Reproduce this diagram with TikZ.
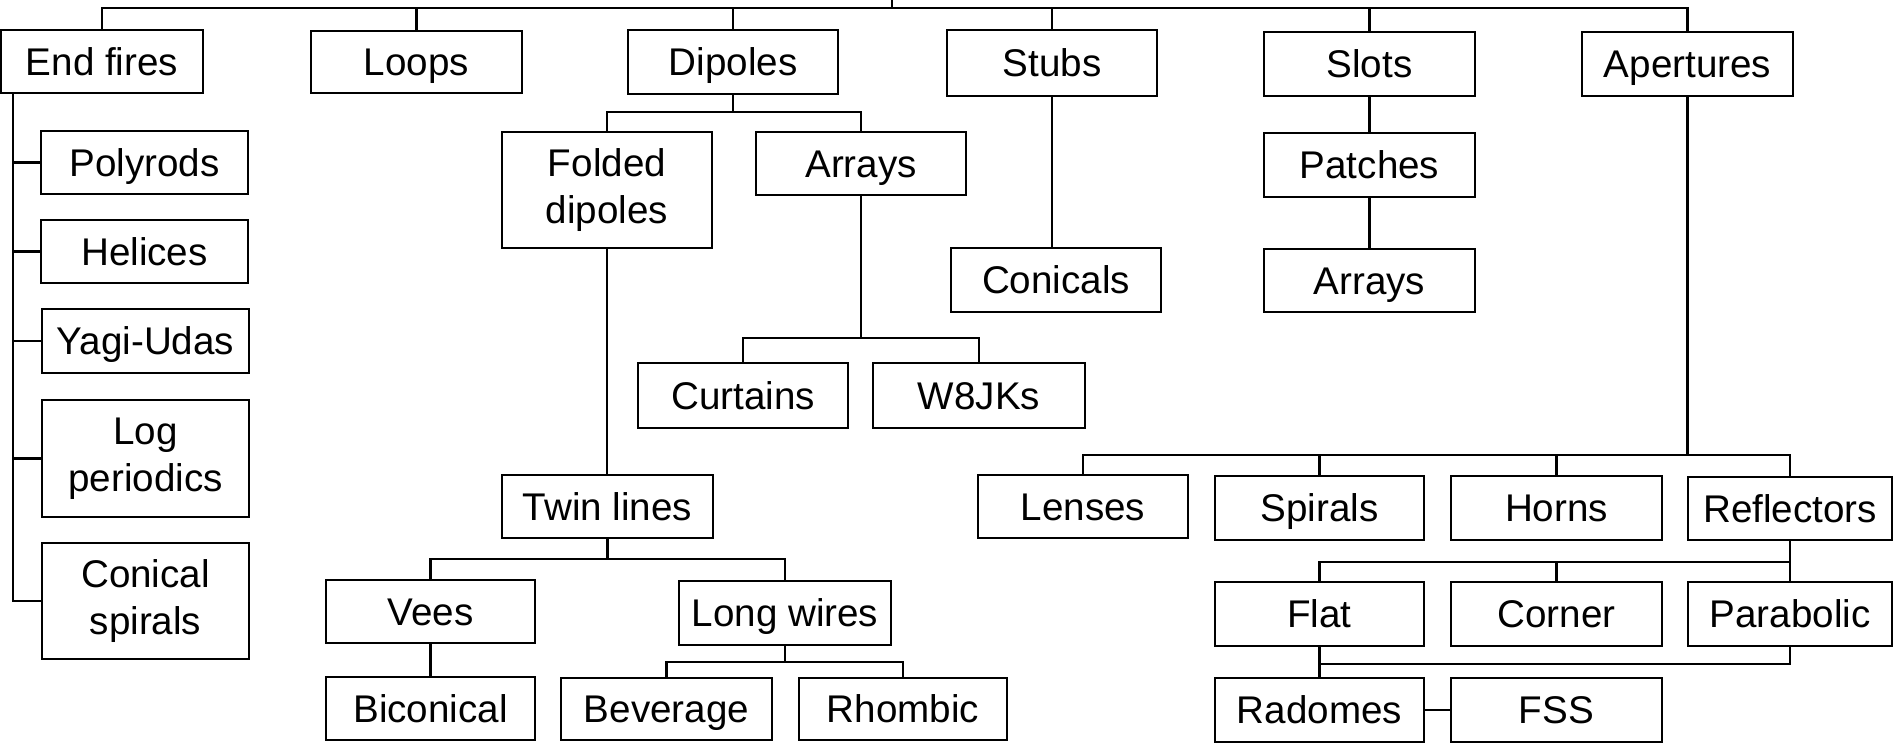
\documentclass[tikz,border=0pt]{standalone}
\usepackage{fontspec}
\setmainfont{Liberation Sans}
\tikzset{
  bx/.style={draw, line width=1.2pt, inner sep=0pt, align=center,
    font=\fontsize{19.3}{23.5}\selectfont},
  one/.style={text height=13.8pt, text depth=0pt},
  ln/.style={line width=1.2pt}
}
\newcommand\bnode[6]{\node[bx,one,minimum width={(#4-#2)*0.5pt},minimum height={(#5-#3)*0.5pt}] (#1) at ({(#2+#4)/2},{(#3+#5)/2}) {#6};}
\newcommand\bnodeii[6]{\node[bx,minimum width={(#4-#2)*0.5pt},minimum height={(#5-#3)*0.5pt}] (#1) at ({(#2+#4)/2},{(#3+#5)/2}) {#6};}
\begin{document}
\begin{tikzpicture}[x=0.5pt,y=-0.5pt]
\useasboundingbox (0,0) rectangle (1893,749);
% level 1
\bnode{endfires}{1}{30}{203}{93}{End fires}
\bnode{loops}{311}{31}{522}{93}{Loops}
\bnode{dipoles}{628}{30}{838}{94}{Dipoles}
\bnode{stubs}{947}{30}{1157}{96}{Stubs}
\bnode{slots}{1264}{32}{1475}{96}{Slots}
\bnode{apertures}{1582}{32}{1793}{96}{Apertures}
% end fires children
\bnode{polyrods}{41}{131}{248}{194}{Polyrods}
\bnode{helices}{41}{220}{248}{283}{Helices}
\bnode{yagi}{42}{309}{249}{373}{Yagi-Udas}
\bnodeii{logp}{42}{400}{249}{517}{Log\\periodics}
\bnodeii{conspir}{42}{543}{249}{659}{Conical\\spirals}
% dipoles subtree
\bnodeii{folded}{502}{132}{712}{248}{Folded\\dipoles}
\bnode{arrays1}{756}{132}{966}{195}{Arrays}
\bnode{curtains}{638}{363}{848}{428}{Curtains}
\bnode{w8jks}{873}{363}{1085}{428}{W8JKs}
\bnode{twin}{502}{475}{713}{538}{Twin lines}
\bnode{vees}{326}{580}{535}{643}{Vees}
\bnode{longwires}{679}{581}{891}{645}{Long wires}
\bnode{biconical}{326}{677}{535}{740}{Biconical}
\bnode{beverage}{561}{678}{772}{740}{Beverage}
\bnode{rhombic}{799}{678}{1007}{740}{Rhombic}
% stubs, slots
\bnode{conicals}{951}{248}{1161}{312}{Conicals}
\bnode{patches}{1264}{133}{1475}{197}{Patches}
\bnode{arrays2}{1264}{249}{1475}{312}{Arrays}
% apertures subtree
\bnode{lenses}{978}{475}{1188}{538}{Lenses}
\bnode{spirals}{1215}{476}{1424}{540}{Spirals}
\bnode{horns}{1451}{476}{1662}{540}{Horns}
\bnode{reflectors}{1688}{477}{1892}{540}{Reflectors}
\bnode{flat}{1215}{582}{1424}{646}{Flat}
\bnode{corner}{1451}{582}{1662}{646}{Corner}
\bnode{parabolic}{1688}{582}{1892}{646}{Parabolic}
\bnode{radomes}{1215}{678}{1424}{742}{Radomes}
\bnode{fss}{1451}{678}{1662}{742}{FSS}
% connectors: root bus
\coordinate (top) at (892,0);
\coordinate (bus) at (892,8);
\draw[ln] (top) -- (bus);
\draw[ln] (endfires.north) |- (bus) -| (apertures.north);
\foreach \n in {loops,dipoles,stubs,slots}
  \draw[ln] (\n.north) -- (\n.north |- bus);
% end fires
\coordinate (efx) at ([xshift=6.5pt]endfires.south west);
\draw[ln] (efx) |- (conspir.west);
\foreach \n in {polyrods,helices,yagi,logp}
  \draw[ln] (\n.west) -- (\n.west -| efx);
% dipoles
\draw[ln] (dipoles.south) -- ++(0,17) coordinate (db);
\draw[ln] (folded.north) |- (db) -| (arrays1.north);
\draw[ln] (folded.south) -- (folded.south |- twin.north);
\draw[ln] (arrays1.south) -- ++(0,142) coordinate (arb);
\draw[ln] (curtains.north) |- (arb) -| (w8jks.north);
\draw[ln] (twin.south) -- ++(0,20) coordinate (tb);
\draw[ln] (vees.north) |- (tb) -| (longwires.north);
\draw[ln] (vees) -- (biconical);
\draw[ln] (longwires.south) -- ++(0,16) coordinate (lb);
\draw[ln] (beverage.north) |- (lb) -| (rhombic.north);
% stubs, slots
\draw[ln] (stubs.south) -- (stubs.south |- conicals.north);
\draw[ln] (slots) -- (patches);
\draw[ln] (patches) -- (arrays2);
% apertures
\draw[ln] (apertures.south) -- ++(0,358) coordinate (apb);
\draw[ln] (lenses.north) |- (apb) -| (reflectors.north);
\foreach \n in {spirals,horns}
  \draw[ln] (\n.north) -- (\n.north |- apb);
\draw[ln] (reflectors.south) -- ++(0,21) coordinate (rb);
\draw[ln] (rb) -- (parabolic.north);
\draw[ln] (flat.north) |- (rb);
\draw[ln] (corner.north) -- (corner.north |- rb);
\draw[ln] (flat.south) -- (radomes.north);
\draw[ln] (parabolic.south) -- ++(0,17) -| (flat.south);
\draw[ln] (radomes) -- (fss);
\end{tikzpicture}
\end{document}
